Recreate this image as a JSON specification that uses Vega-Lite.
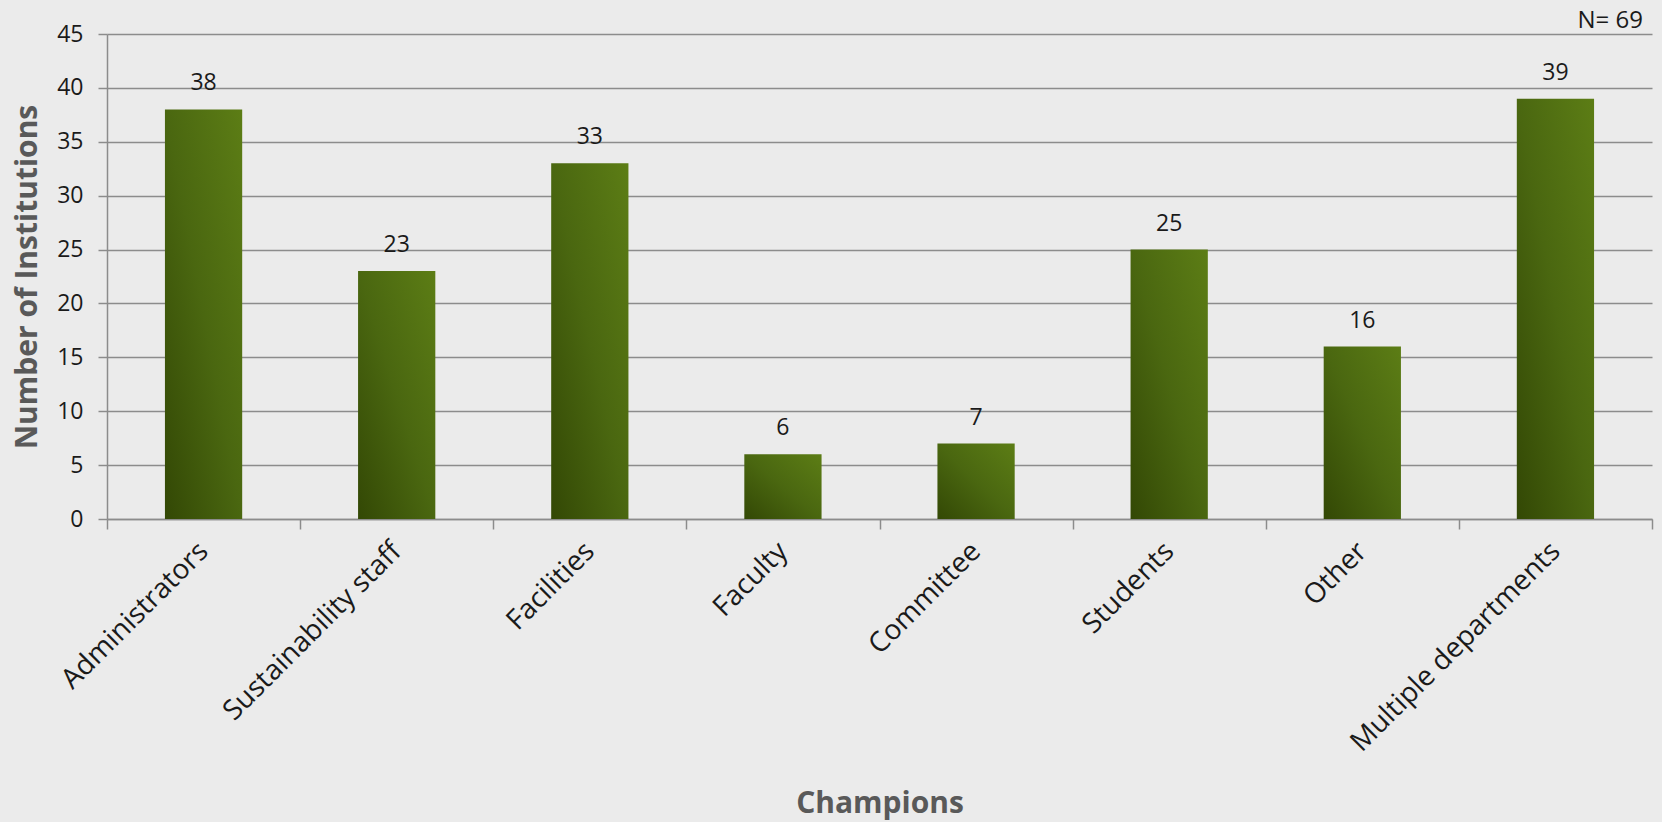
{
  "$schema": "https://vega.github.io/schema/vega-lite/v6.json",
  "width": 1545,
  "height": 485,
  "autosize": {"type": "none"},
  "padding": {"left": 107, "top": 34, "right": 10, "bottom": 303},
  "background": "#ebebeb",
  "config": {"font": "Open Sans", "view": {"stroke": null}},
  "title": {"text": "N= 69", "anchor": "end", "orient": "top", "frame": "group", "fontSize": 24, "font": "Open Sans", "fontWeight": "normal", "color": "#1a1a1a", "baseline": "alphabetic", "offset": -29, "dx": -9},
  "data": {
    "values": [
      {"champion": "Administrators", "count": 38},
      {"champion": "Sustainability staff", "count": 23},
      {"champion": "Facilities", "count": 33},
      {"champion": "Faculty", "count": 6},
      {"champion": "Committee", "count": 7},
      {"champion": "Students", "count": 25},
      {"champion": "Other", "count": 16},
      {"champion": "Multiple departments", "count": 39}
    ]
  },
  "encoding": {
    "x": {
      "field": "champion",
      "type": "nominal",
      "sort": null,
      "scale": {"paddingInner": 0, "paddingOuter": 0},
      "axis": {
        "title": "Champions",
        "titleFontSize": 30,
        "titleFontWeight": "bold",
        "titleColor": "#595959",
        "titlePadding": 69,
        "labelAngle": -45,
        "labelAlign": "right",
        "labelBaseline": "middle",
        "labelFontSize": 28,
        "labelLimit": 500,
        "labelColor": "#1a1a1a",
        "labelPadding": 18,
        "tickBand": "extent",
        "tickSize": 10,
        "tickColor": "#8c8c8c",
        "domainColor": "#8c8c8c",
        "domainWidth": 1.5,
        "tickWidth": 1.5,
        "grid": false
      }
    },
    "y": {
      "field": "count",
      "type": "quantitative",
      "scale": {"domain": [0, 45]},
      "axis": {
        "title": "Number of Institutions",
        "titleFontSize": 30,
        "titleFontWeight": "bold",
        "titleColor": "#595959",
        "titlePadding": 14,
        "values": [0, 5, 10, 15, 20, 25, 30, 35, 40, 45],
        "labelFontSize": 23,
        "labelColor": "#1a1a1a",
        "labelPadding": 15,
        "tickSize": 9,
        "tickColor": "#8c8c8c",
        "tickWidth": 1.5,
        "domainColor": "#8c8c8c",
        "domainWidth": 1.5,
        "gridColor": "#8c8c8c",
        "gridWidth": 1.5
      }
    }
  },
  "layer": [
    {
      "mark": {
        "type": "bar",
        "width": {"band": 0.4},
        "color": {
          "gradient": "linear",
          "x1": 0, "y1": 1, "x2": 1, "y2": 0,
          "stops": [
            {"offset": 0, "color": "#334805"},
            {"offset": 0.5, "color": "#4a6710"},
            {"offset": 1, "color": "#5c7d15"}
          ]
        }
      }
    },
    {
      "mark": {"type": "text", "baseline": "alphabetic", "dy": -19, "fontSize": 23, "color": "#1a1a1a"},
      "encoding": {"text": {"field": "count", "type": "quantitative"}}
    }
  ]
}
